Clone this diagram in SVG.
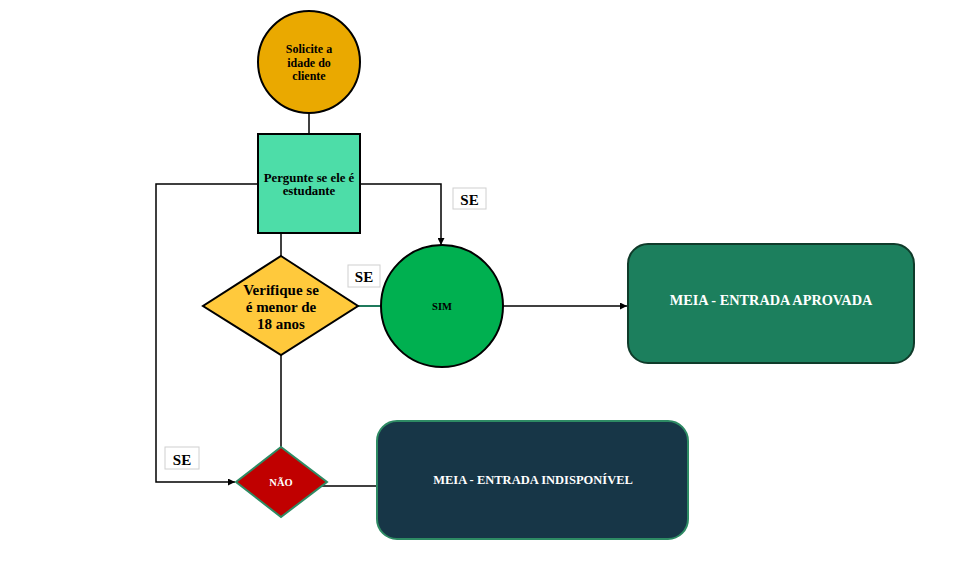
<svg xmlns="http://www.w3.org/2000/svg" width="970" height="573" viewBox="0 0 970 573">
<defs>
<marker id="arr" viewBox="0 0 10 10" refX="10" refY="5" markerWidth="7" markerHeight="7" markerUnits="userSpaceOnUse" orient="auto"><path d="M0,0 L10,5 L0,10 z" fill="#000"/></marker>
<style>
.t{font-family:"Liberation Serif","DejaVu Serif",serif;font-weight:bold;text-anchor:middle}
.c{fill:none;stroke:#000;stroke-width:1.5}
.lbl{fill:#fff;stroke:#d0d0d0;stroke-width:1}
</style>
</defs>
<rect width="970" height="573" fill="#fff"/>
<g id="connectors">
<line class="c" x1="309" y1="113" x2="309" y2="134" stroke-width="2"/>
<polyline class="c" points="258,184 156,184 156,482 235,482" marker-end="url(#arr)"/>
<polyline class="c" points="360,184 441,184 441,245" marker-end="url(#arr)"/>
<line class="c" x1="281" y1="233" x2="281" y2="256" stroke-width="2"/>
<line x1="358" y1="306" x2="381" y2="306" stroke="#1f7a5c" stroke-width="2"/>
<line class="c" x1="503" y1="306" x2="627" y2="306" marker-end="url(#arr)"/>
<line class="c" x1="281" y1="355" x2="281" y2="447" stroke-width="2"/>
<line class="c" x1="320" y1="486" x2="377" y2="486"/>
<rect class="lbl" x="453" y="188" width="33" height="21"/>
<text class="t" x="469.5" y="205" font-size="15">SE</text>
<rect class="lbl" x="348" y="265" width="32" height="22"/>
<text class="t" x="364" y="282" font-size="15">SE</text>
<rect class="lbl" x="165" y="447" width="34" height="22"/>
<text class="t" x="182" y="465" font-size="15">SE</text>
</g>
<g id="start">
<circle cx="309" cy="62" r="51" fill="#EAA900" stroke="#000" stroke-width="2"/>
<text class="t" x="309" y="53" font-size="12">Solicite a</text>
<text class="t" x="309" y="67" font-size="12">idade do</text>
<text class="t" x="309" y="80" font-size="12">cliente</text>
</g>
<g id="pergunte">
<rect x="258" y="134" width="102" height="99" fill="#4DDDA8" stroke="#000" stroke-width="2"/>
<text class="t" x="309" y="182" font-size="12.8">Pergunte se ele é</text>
<text class="t" x="309" y="195" font-size="12.8">estudante</text>
</g>
<g id="verifique">
<polygon points="281,256 358,306 281,355 203,306" fill="#FFC93C" stroke="#000" stroke-width="2"/>
<text class="t" x="281" y="295" font-size="15">Verifique se</text>
<text class="t" x="281" y="312" font-size="15">é menor de</text>
<text class="t" x="281" y="329" font-size="15">18 anos</text>
</g>
<g id="sim">
<circle cx="442" cy="306" r="61" fill="#00B050" stroke="#000" stroke-width="2"/>
<text class="t" x="442" y="310" font-size="10.5">SIM</text>
</g>
<g id="aprovada">
<rect x="628" y="244" width="286" height="119" rx="20" fill="#1C7F5D" stroke="#0F3B2A" stroke-width="2"/>
<text class="t" x="771" y="305" font-size="14.3" fill="#fff">MEIA - ENTRADA APROVADA</text>
</g>
<g id="nao">
<polygon points="281,447 327,482 281,517 236,482" fill="#C00000" stroke="#2E8B64" stroke-width="2"/>
<text class="t" x="281" y="486" font-size="10.5" fill="#fff">NÃO</text>
</g>
<g id="indisponivel">
<rect x="377" y="421" width="311" height="118" rx="20" fill="#173647" stroke="#2E8B64" stroke-width="2"/>
<text class="t" x="533" y="484" font-size="12.5" fill="#fff">MEIA - ENTRADA INDISPONÍVEL</text>
</g>
</svg>
